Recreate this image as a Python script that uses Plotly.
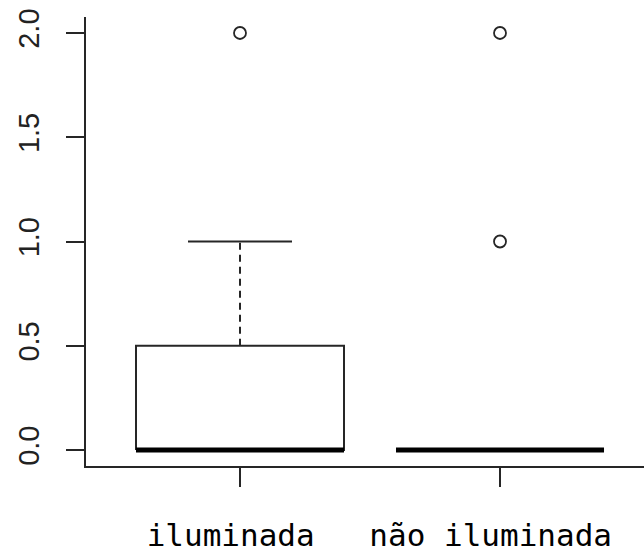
import plotly.graph_objects as go

categories = ["iluminada", "não iluminada"]
q1 = [0.0, 0.0]
median = [0.0, 0.0]
q3 = [0.5, 0.0]
lower_whisker = [0.0, 0.0]
upper_whisker = [1.0, 0.0]
outliers = [[2.0], [1.0, 2.0]]

y_ticks = [0.0, 0.5, 1.0, 1.5, 2.0]
y_tick_labels = ["0.0", "0.5", "1.0", "1.5", "2.0"]

LINE = "#262626"
BOX_HALF = 0.4
CAP_HALF = 0.2

fig = go.Figure()
for i, cat in enumerate(categories):
    c = i + 1
    # box
    fig.add_trace(go.Scatter(
        x=[c - BOX_HALF, c + BOX_HALF, c + BOX_HALF, c - BOX_HALF, c - BOX_HALF],
        y=[q1[i], q1[i], q3[i], q3[i], q1[i]],
        mode="lines", line=dict(color=LINE, width=2), hoverinfo="skip"))
    # whiskers (dashed)
    fig.add_trace(go.Scatter(x=[c, c], y=[q3[i], upper_whisker[i]], mode="lines",
                             line=dict(color=LINE, width=2, dash="7px,5px"), hoverinfo="skip"))
    fig.add_trace(go.Scatter(x=[c, c], y=[q1[i], lower_whisker[i]], mode="lines",
                             line=dict(color=LINE, width=2, dash="7px,5px"), hoverinfo="skip"))
    # caps
    fig.add_trace(go.Scatter(x=[c - CAP_HALF, c + CAP_HALF], y=[upper_whisker[i]] * 2, mode="lines",
                             line=dict(color=LINE, width=2), hoverinfo="skip"))
    fig.add_trace(go.Scatter(x=[c - CAP_HALF, c + CAP_HALF], y=[lower_whisker[i]] * 2, mode="lines",
                             line=dict(color=LINE, width=2), hoverinfo="skip"))
    # median
    fig.add_trace(go.Scatter(x=[c - BOX_HALF, c + BOX_HALF], y=[median[i]] * 2, mode="lines",
                             line=dict(color="black", width=5), hoverinfo="skip"))
    # outliers
    fig.add_trace(go.Scatter(x=[c] * len(outliers[i]), y=outliers[i], mode="markers",
                             marker=dict(symbol="circle-open", size=12, color=LINE,
                                         line=dict(width=1.8, color=LINE)), hoverinfo="skip"))

fig.update_layout(
    width=644, height=552,
    margin=dict(l=86, r=0, t=17, b=86),
    paper_bgcolor="white", plot_bgcolor="white",
    showlegend=False,
)
fig.update_xaxes(
    range=[0.4077, 2.5538],
    tickvals=[1, 2], ticktext=[c + "\u00a0" for c in categories],
    ticks="outside", ticklen=19, tickwidth=1.5, tickcolor=LINE,
    showline=True, linecolor=LINE, linewidth=1.5,
    showgrid=False, zeroline=False,
    tickfont=dict(family="DejaVu Sans Mono", size=31, color="black"),
    ticklabelstandoff=22,
)
fig.update_yaxes(
    range=[-0.0767, 2.0767],
    tickvals=y_ticks, ticktext=y_tick_labels,
    tickangle=-90,
    ticks="outside", ticklen=18, tickwidth=1.5, tickcolor=LINE,
    showline=True, linecolor=LINE, linewidth=1.5,
    showgrid=False, zeroline=False,
    tickfont=dict(family="Liberation Sans", size=29, color="#222"),
    ticklabelstandoff=16,
)

fig.write_html("out.html")
